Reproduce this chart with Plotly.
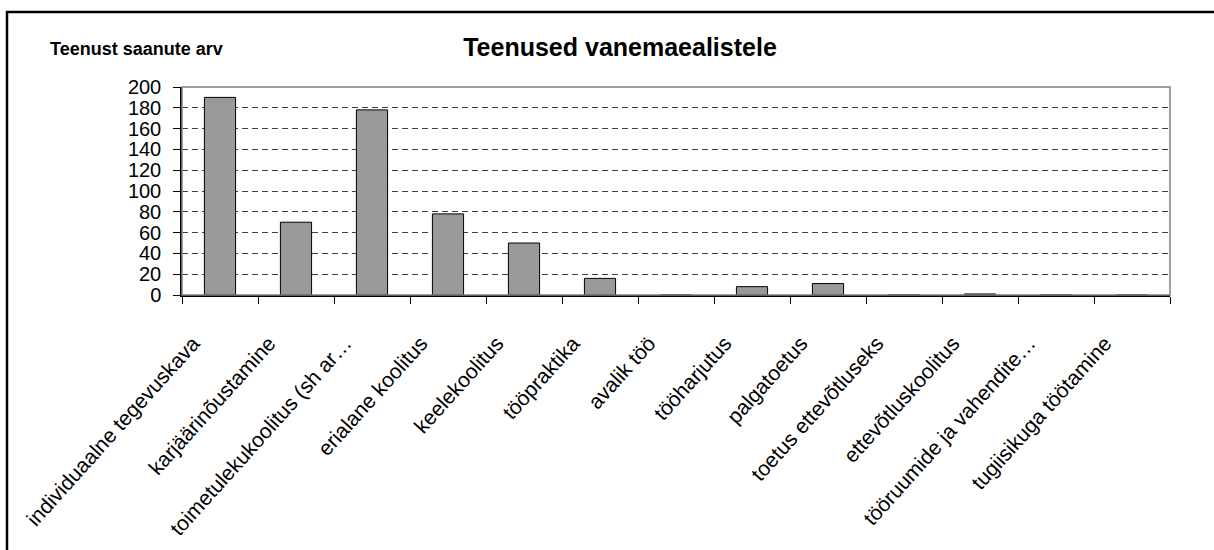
import plotly.graph_objects as go

categories = [
    "individuaalne tegevuskava",
    "karjäärinõustamine",
    "toimetulekukoolitus (sh ar…",
    "erialane koolitus",
    "keelekoolitus",
    "tööpraktika",
    "avalik töö",
    "tööharjutus",
    "palgatoetus",
    "toetus ettevõtluseks",
    "ettevõtluskoolitus",
    "tööruumide ja vahendite…",
    "tugiisikuga töötamine",
]
values = [190, 70, 178, 78, 50, 16, 0, 8, 11, 0, 1, 0, 0]
y_ticks = [0, 20, 40, 60, 80, 100, 120, 140, 160, 180, 200]

title_text = "Teenused vanemaealistele"
y_title_text = "Teenust saanute arv"

W, H = 1214, 550
L, R, T, B = 182, 1170, 87, 295
pw, ph = R - L, B - T

def px(x):
    return (x - L) / pw

def py(y):
    return (B - y) / ph

FONT = "Liberation Sans, Arial, sans-serif"

fig = go.Figure(
    go.Bar(
        x=categories,
        y=values,
        marker=dict(color="#999999", line=dict(color="#000000", width=1)),
        width=0.41,
        hoverinfo="x+y",
    )
)

fig.update_layout(
    width=W,
    height=H,
    margin=dict(l=L, r=W - R, t=T, b=H - B, pad=0, autoexpand=False),
    paper_bgcolor="white",
    plot_bgcolor="white",
    showlegend=False,
    font=dict(family=FONT, color="#000000"),
    title=dict(
        text="<b>" + title_text + "</b>",
        x=620 / W,
        xanchor="center",
        y=1 - 47 / H,
        yanchor="middle",
        font=dict(size=25, family=FONT, color="#000000"),
    ),
    annotations=[
        dict(
            text="<b>" + y_title_text + "</b>",
            x=px(48),
            y=py(49),
            xref="paper",
            yref="paper",
            xanchor="left",
            yanchor="middle",
            showarrow=False,
            font=dict(size=18, family=FONT, color="#000000"),
        )
    ],
    shapes=[
        dict(type="rect", xref="paper", yref="paper", x0=0, x1=1, y0=0, y1=1,
             line=dict(color="#808080", width=1.5), layer="above"),
        dict(type="rect", xref="paper", yref="paper",
             x0=px(7), x1=px(1300), y0=py(650), y1=py(12),
             line=dict(color="#000000", width=2.5), layer="above"),
    ],
)

fig.update_xaxes(
    type="category",
    automargin=False,
    showline=True,
    linecolor="#000000",
    linewidth=1.5,
    ticks="outside",
    tickson="boundaries",
    ticklen=7,
    tickcolor="#000000",
    tickwidth=1,
    tickangle=-48,
    ticklabelstandoff=26,
    ticklabelshift=-27,
    tickfont=dict(size=21, family=FONT, color="#000000"),
    showgrid=False,
    zeroline=False,
)

fig.update_yaxes(
    range=[0, 200],
    automargin=False,
    tickvals=y_ticks,
    ticktext=[str(v) for v in y_ticks],
    showline=True,
    linecolor="#000000",
    linewidth=1.5,
    ticks="outside",
    ticklen=7,
    tickcolor="#000000",
    ticklabelstandoff=8,
    tickfont=dict(size=20, family=FONT, color="#000000"),
    showgrid=True,
    gridcolor="#404040",
    gridwidth=1,
    griddash="6px,4px",
    zeroline=False,
    layer="below traces",
)

fig.write_html(
    "out.html",
    config={"displayModeBar": False},
    post_script="document.body.style.margin='0';document.body.style.overflow='hidden';",
)
